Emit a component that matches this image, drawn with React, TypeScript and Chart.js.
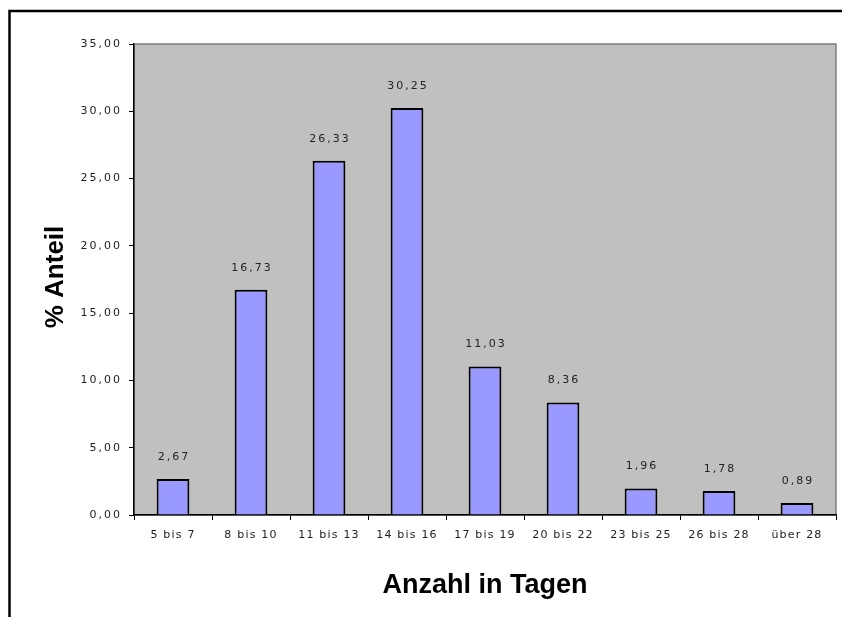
import React, { useEffect, useRef } from "react";
import { Chart, registerables } from "chart.js";

Chart.register(...registerables);

const categories = ["5 bis 7", "8 bis 10", "11 bis 13", "14 bis 16", "17 bis 19", "20 bis 22", "23 bis 25", "26 bis 28", "über 28"];
const values = [2.67, 16.73, 26.33, 30.25, 11.03, 8.36, 1.96, 1.78, 0.89];
const yMin = 0;
const yMax = 35;
const yStep = 5;
const yTitle = "% Anteil";
const xTitle = "Anzahl in Tagen";

const fmt = (v: number) => v.toFixed(2).replace(".", ",");

export default function App() {
  const ref = useRef<HTMLCanvasElement | null>(null);
  useEffect(() => {
    const canvas = ref.current!;
    const decor = {
      id: "decor",
      beforeDraw(chart: any) {
        const ctx = chart.ctx;
        ctx.letterSpacing = "1.2px";
        const a = chart.chartArea;
        ctx.save();
        ctx.fillStyle = "#ffffff";
        ctx.fillRect(0, 0, chart.width, chart.height);
        ctx.fillStyle = "#C0C0C0";
        ctx.fillRect(a.left, a.top, a.right - a.left, a.bottom - a.top);
        ctx.strokeStyle = "#808080";
        ctx.lineWidth = 1.5;
        ctx.strokeRect(a.left, a.top, a.right - a.left, a.bottom - a.top);
        // outer frame
        ctx.strokeStyle = "#000";
        ctx.lineWidth = 2.5;
        ctx.strokeRect(9.5, 11, 1000, 1000);
        ctx.restore();
      },
      afterDatasetsDraw(chart: any) {
        const ctx = chart.ctx;
        const meta = chart.getDatasetMeta(0);
        ctx.save();
        ctx.letterSpacing = "2px";
        ctx.font = "11px 'DejaVu Sans'";
        ctx.fillStyle = "#222";
        ctx.textAlign = "center";
        ctx.textBaseline = "middle";
        meta.data.forEach((el: any, i: number) => {
          ctx.fillText(fmt(values[i]), el.x + 1, el.y - 22);
        });
        ctx.restore();
        // spacing for y tick labels drawn in a later layer
        ctx.letterSpacing = "2px";
      },
      afterDraw(chart: any) {
        const ctx = chart.ctx;
        const a = chart.chartArea;
        ctx.save();
        ctx.letterSpacing = "0px";
        ctx.fillStyle = "#000";
        ctx.textAlign = "center";
        ctx.textBaseline = "alphabetic";
        ctx.font = "bold 27px 'Liberation Sans', Arial";
        ctx.fillText(xTitle, (a.left + a.right) / 2, 593);
        ctx.font = "bold 26px 'Liberation Sans', Arial";
        ctx.translate(63, 277);
        ctx.rotate(-Math.PI / 2);
        ctx.fillText(yTitle, 0, 0);
        ctx.restore();
      },
    };
    const chart = new Chart(canvas, {
      type: "bar",
      data: {
        labels: categories,
        datasets: [
          {
            data: values,
            backgroundColor: "#9999FF",
            borderColor: "#000",
            borderWidth: 2,
            barPercentage: 0.42,
            categoryPercentage: 1,
          },
        ],
      },
      options: {
        animation: false,
        responsive: false,
        devicePixelRatio: 1,
        layout: { padding: { left: 0, right: 6, top: 44, bottom: 0 } },
        plugins: { legend: { display: false }, tooltip: { enabled: false } },
        scales: {
          x: {
            offset: true,
            grid: { display: true, drawOnChartArea: false, offset: true, tickLength: 5, color: "#000" },
            border: { color: "#000", width: 1.5 },
            ticks: { color: "#222", font: { family: "'DejaVu Sans'", size: 11 }, padding: 9, maxRotation: 0, autoSkip: false },
            afterFit: (s: any) => { s.height = 102; },
          },
          y: {
            min: yMin,
            max: yMax,
            ticks: { z: 1, stepSize: yStep, color: "#222", font: { family: "'DejaVu Sans'", size: 11 }, padding: 7, callback: (v: any) => fmt(Number(v)) },
            grid: { display: true, drawOnChartArea: false, tickLength: 5, color: "#000" },
            border: { color: "#000", width: 1.5 },
            afterFit: (s: any) => { s.width = 134; },
          },
        },
      },
      plugins: [decor],
    });
    return () => chart.destroy();
  }, []);
  return (
    <canvas
      ref={ref}
      width={842}
      height={617}
      style={{ position: "fixed", left: 0, top: 0, width: 842, height: 617, display: "block" }}
    />
  );
}
